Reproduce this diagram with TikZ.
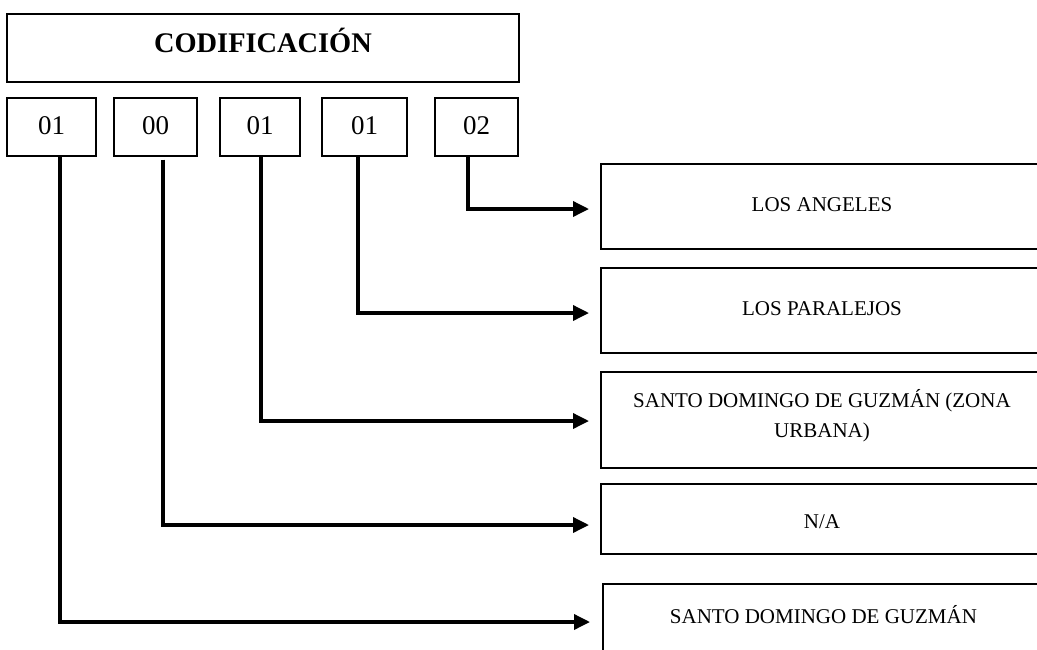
\documentclass[tikz,border=0pt]{standalone}
\usepackage{fontspec}
\setmainfont{Liberation Serif}
\usetikzlibrary{arrows.meta}
\begin{document}
\begin{tikzpicture}[x=1pt,y=-1pt,
  box/.style={draw=black,line width=1.4pt,inner sep=0pt,rectangle},
  titlebox/.style={box,minimum width=512pt,minimum height=68pt,text height=20pt,text depth=12pt,
    font=\fontsize{28.4}{30}\selectfont\bfseries},
  codebox/.style={box,minimum height=58pt,text height=18pt,text depth=4pt,
    font=\fontsize{27}{30}\selectfont},
  rbox/.style={box,minimum width=444pt},
  rtext/.style={inner sep=0pt,text height=14pt,text depth=0pt,font=\fontsize{21}{24}\selectfont},
  conn/.style={line width=3.5pt,-{Triangle[length=16pt,width=15pt]}}
]
\useasboundingbox (0,0) rectangle (1037,649);
% title
\node[titlebox] (title) at (263,48) {CODIFICACIÓN};
% code boxes
\node[codebox,minimum width=89pt] (c1) at (51.5,127) {01};
\node[codebox,minimum width=83pt] (c2) at (155.5,127) {00};
\node[codebox,minimum width=80pt] (c3) at (260,127) {01};
\node[codebox,minimum width=85pt] (c4) at (364.5,127) {01};
\node[codebox,minimum width=83pt] (c5) at (476.5,127) {02};
% right boxes
\node[rbox,minimum height=85pt] (r1) at (823,206.5) {};
\node[rbox,minimum height=85pt] (r2) at (823,310.5) {};
\node[rbox,minimum height=96pt] (r3) at (823,420) {};
\node[rbox,minimum height=70pt] (r4) at (823,519) {};
\node[rbox,minimum height=96pt,minimum width=442pt] (r5) at (824,632) {};
% texts
\node[rtext] (t1) at (822,204) {LOS ANGELES};
\node[rtext] (t2) at (822,308) {LOS PARALEJOS};
\node[rtext,anchor=base] (t3a) at (822,407.5) {SANTO DOMINGO DE GUZMÁN (ZONA};
\node[rtext,anchor=base] (t3b) at (822,437) {URBANA)};
\node[rtext] (t4) at (822,521.5) {N/A};
\node[rtext] (t5) at (823.5,616) {SANTO DOMINGO DE GUZMÁN};
% bend points and arrow ends
\coordinate (k5) at (468,209);
\coordinate (k4) at (358,313);
\coordinate (k3) at (261,421);
\coordinate (k2) at (163,525);
\coordinate (k1) at (60,622);
\coordinate (e5) at (589,209);
\coordinate (e4) at (589,313);
\coordinate (e3) at (589,421);
\coordinate (e2) at (589,525);
\coordinate (e1) at (590,622);
\draw[conn] (c5.south -| k5) -- (k5) -- (e5);
\draw[conn] (c4.south -| k4) -- (k4) -- (e4);
\draw[conn] (c3.south -| k3) -- (k3) -- (e3);
\draw[conn] ([yshift=-3pt]c2.south -| k2) -- (k2) -- (e2);
\draw[conn] (c1.south -| k1) -- (k1) -- (e1);
\end{tikzpicture}
\end{document}
